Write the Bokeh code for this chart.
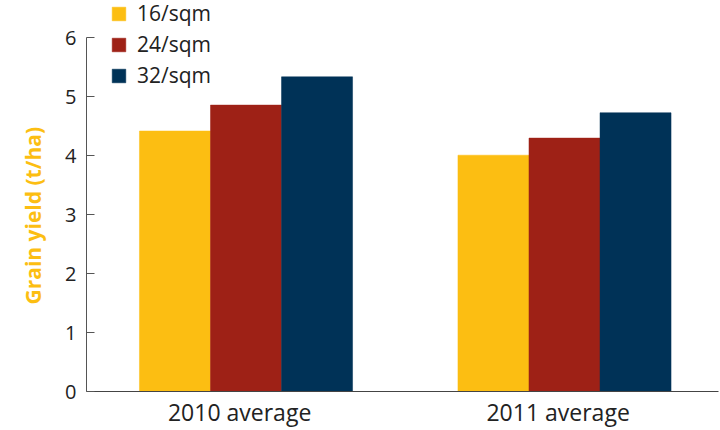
from bokeh.plotting import figure
from bokeh.models import Range1d, FixedTicker, Legend, LegendItem, ColumnDataSource, Title
from bokeh.embed import file_html
from bokeh.resources import INLINE

categories = ["2010 average", "2011 average"]
series_names = ["16/sqm", "24/sqm", "32/sqm"]
vals_16 = [4.42, 4.01]
vals_24 = [4.86, 4.30]
vals_32 = [5.34, 4.73]
y_ticks = [0, 1, 2, 3, 4, 5, 6]
y_title = "Grain yield (t/ha)"
colors = ["#FCBE12", "#9E2116", "#003257"]

FONT = "Open Sans"
X0, X1 = -0.5008, 1.4835

p = figure(width=720, height=430, output_backend="svg", toolbar_location=None,
           x_range=Range1d(X0, X1), y_range=Range1d(0, 6.635),
           min_border_left=86, min_border_right=2, min_border_top=0, min_border_bottom=38)
p.outline_line_color = None
p.grid.grid_line_color = None
p.background_fill_color = "white"
p.border_fill_color = "white"

bw = 0.223
offsets = [-bw, 0.0, bw]
xs = list(range(len(categories)))
items = []
for name, vals, col, off in zip(series_names, [vals_16, vals_24, vals_32], colors, offsets):
    src = ColumnDataSource(dict(x=[i + off for i in xs], top=vals))
    r = p.vbar(x="x", top="top", width=bw, bottom=0, source=src,
               fill_color=col, line_color=col, line_width=0.5)
    items.append(LegendItem(label=name, renderers=[r]))

legend = Legend(items=items, location=(24, 302), orientation="vertical",
                label_text_font=FONT, label_text_font_size="21px", label_text_color="#222222",
                glyph_width=17, glyph_height=17, label_standoff=10, spacing=3,
                padding=0, margin=0, background_fill_alpha=0, border_line_color=None,
                label_height=17)
p.add_layout(legend, "center")

# y axis
p.yaxis.ticker = FixedTicker(ticks=y_ticks)
p.yaxis.bounds = (0, 6)
p.yaxis.major_tick_in = 8
p.yaxis.major_tick_out = 0
p.yaxis.minor_tick_line_color = None
p.yaxis.axis_line_color = "#555555"
p.yaxis.major_tick_line_color = "#555555"
p.yaxis.major_label_text_font = FONT
p.yaxis.major_label_text_font_size = "20px"
p.yaxis.major_label_text_color = "#222222"
p.yaxis.major_label_standoff = 10

# y title, placed along the left edge starting near the axis bottom
p.add_layout(Title(text=y_title, align="left", offset=87, standoff=32,
                   text_font=FONT, text_font_style="bold", text_font_size="21px",
                   text_color="#FCBE12"), "left")

# x axis
label_shift = -0.02
p.xaxis.ticker = FixedTicker(ticks=[i + label_shift for i in xs])
p.xaxis.major_label_overrides = {i + label_shift: c for i, c in zip(xs, categories)}
p.xaxis.major_tick_line_color = None
p.xaxis.major_tick_in = 0
p.xaxis.major_tick_out = 0
p.xaxis.minor_tick_line_color = None
p.xaxis.axis_line_color = "#444444"
p.xaxis.major_label_text_font = FONT
p.xaxis.major_label_text_font_size = "23px"
p.xaxis.major_label_text_color = "#222222"
p.xaxis.major_label_standoff = 4

open("out.html", "w").write(file_html(p, INLINE))
